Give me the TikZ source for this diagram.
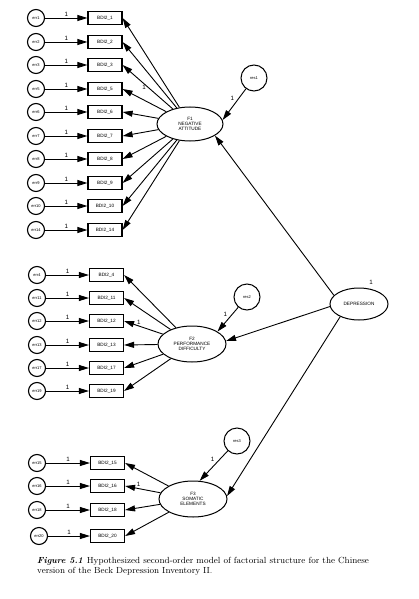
\documentclass[tikz,border=0pt]{standalone}
\usepackage{fontspec}
\newfontfamily\diag{Liberation Sans}
\usetikzlibrary{arrows.meta,shapes.geometric}
\begin{document}
\begin{tikzpicture}[x=1pt,y=-1pt,
 errc/.style={circle,draw,line width=1.1pt,minimum size=17pt,inner sep=0pt,font=\diag\fontsize{4}{4}\selectfont},
 obs/.style={rectangle,draw,line width=1.2pt,minimum width=34pt,minimum height=13pt,inner sep=0pt,font=\diag\fontsize{4.7}{5}\selectfont},
 lat/.style={ellipse,draw,line width=1pt,minimum width=66pt,minimum height=34pt,inner sep=0pt,align=center,font=\diag\fontsize{4.7}{5.3}\selectfont},
 resc/.style={circle,draw,line width=1pt,minimum size=26pt,inner sep=0pt,font=\diag\fontsize{4}{4}\selectfont},
 arr/.style={-{Triangle[length=10pt,width=6pt]},line width=0.9pt},
 one/.style={font=\diag\fontsize{6.2}{6.2}\selectfont,inner sep=0.5pt}
]
\useasboundingbox (0,0) rectangle (419,599);
\fill[white] (0,0) rectangle (419,599);

% latent factors
\node[lat] (F1) at (190,124) {F1\\NEGATIVE\\ATTITUDE};
\node[lat,minimum width=68pt,minimum height=36pt] (F2) at (192,344) {F2\\PERFORMANCE\\DIFFICULTY};
\node[lat,minimum width=68pt,minimum height=36pt] (F3) at (193,499) {F3\\SOMATIC\\ELEMENTS};
\node[lat,minimum width=58pt,minimum height=32pt] (dep) at (359,304) {DEPRESSION};

% residuals
\node[resc] (r1) at (254,78) {res1};
\node[resc] (r2) at (247,297) {res2};
\node[resc] (r3) at (237,441) {res3};

% block 1
\foreach \n/\y in {1/18,2/42,3/65,5/89,6/112,7/136,8/159,9/183,10/206,14/230} {
  \node[errc] (e\n) at (36,\y) {err\n};
  \node[obs] (b\n) at (105,\y) {BDI2\_\n};
  \draw[arr] (e\n) -- node[one,above=0.5pt]{1} (b\n);
}
\foreach \n in {1,2,5,6,7,8,9,10,14} { \draw[arr] (F1) -- (b\n.east); }
\draw[arr] (F1) -- node[one,pos=0.5,anchor=east,xshift=-1pt]{1} (b3.east);

% block 2
\foreach \n/\y in {4/275,11/298,12/321,13/345,17/368,19/391} {
  \node[errc] (e\n) at (37,\y) {err\n};
  \node[obs] (b\n) at (106.5,\y) {BDI2\_\n};
  \draw[arr] (e\n) -- node[one,above=0.5pt]{1} (b\n);
}
\foreach \n in {4,11,13,17,19} { \draw[arr] (F2) -- (b\n.east); }
\draw[arr] (F2) -- node[one,pos=0.62,anchor=south,yshift=1pt]{1} (b12.east);

% block 3
\foreach \n/\y/\x in {15/463/37,16/486/37,18/510/37,20/536/39} {
  \node[errc] (e\n) at (\x,\y) {err\n};
  \node[obs] (b\n) at (107.5,\y) {BDI2\_\n};
  \draw[arr] (e\n) -- node[one,above=0.5pt]{1} (b\n);
}
\foreach \n in {15,18,20} { \draw[arr] (F3) -- (b\n.east); }
\draw[arr] (F3) -- node[one,pos=0.62,anchor=south,yshift=1pt]{1} (b16.east);

% residual paths
\draw[arr] (r1) -- node[one,pos=0.3,left=4pt]{1} (F1.7);
\draw[arr] (r2) -- node[one,pos=0.3,left=4pt]{1} (F2.26);
\draw[arr] (r3) -- node[one,pos=0.3,left=4pt]{1} (F3.70);

% second-order paths
\draw[arr] (dep.161) -- (F1.-25);
\draw[arr] (dep.185) -- (F2.5);
\draw[arr] (dep.214) -- (F3.5);
\node[one,anchor=south] (depone) at ([xshift=12pt,yshift=2pt]dep.north) {1};

% caption
\node[anchor=base west,inner sep=0pt,font=\fontsize{8.85}{10}\selectfont] (cap1) at (37,563.5)
  {\textbf{\textit{Figure 5.1}}\hspace{4pt}Hypothesized second-order model of factorial structure for the Chinese};
\node[anchor=base west,inner sep=0pt,font=\fontsize{8.85}{10}\selectfont] (cap2) at (37,573.5)
  {version of the Beck Depression Inventory II.};
\end{tikzpicture}
\end{document}
